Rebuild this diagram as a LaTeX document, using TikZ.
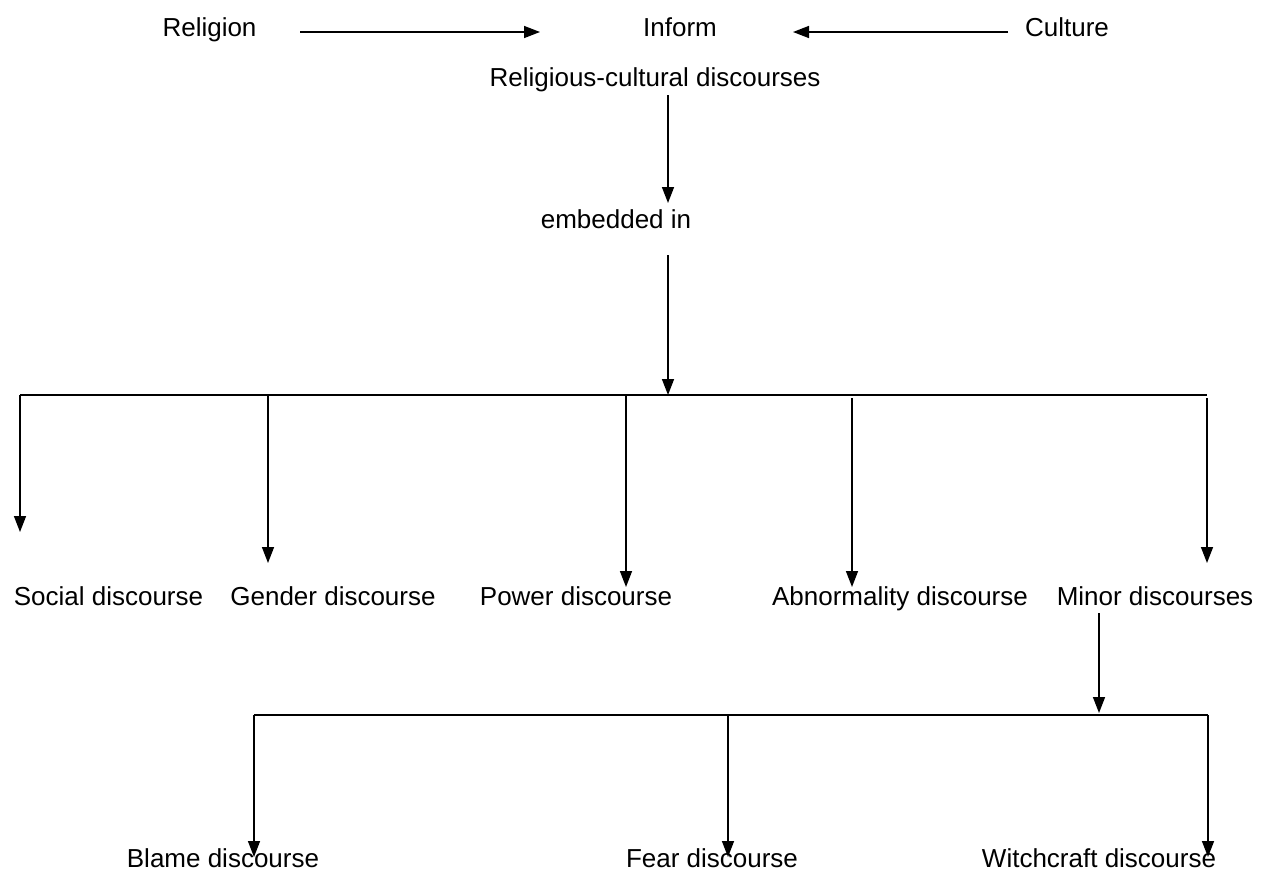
\documentclass[tikz,border=0pt]{standalone}
\usepackage{fontspec}
\setmainfont{Liberation Sans}
\usetikzlibrary{arrows.meta}
\begin{document}
\begin{tikzpicture}[x=1pt,y=-1pt,
  lbl/.style={anchor=base,inner sep=0pt,font=\fontsize{26}{30}\selectfont},
  ln/.style={line width=1.5pt,line cap=butt},
  arr/.style={ln,-{Triangle[width=12pt,length=16pt]}}]
\useasboundingbox (0,0) rectangle (1266,873);
% top row
\node[lbl] (rel) at (209.5,36) {Religion};
\node[lbl] (inf) at (680,36) {Inform};
\node[lbl] (cul) at (1067,36) {Culture};
\node[lbl] (rcd) at (655,86) {Religious-cultural discourses};
\node[lbl] (emb) at (616,228) {embedded in};
% level 2
\node[lbl] (soc) at (108.5,605) {Social discourse};
\node[lbl] (gen) at (333,605) {Gender discourse};
\node[lbl] (pow) at (576,605) {Power discourse};
\node[lbl] (abn) at (900,605) {Abnormality discourse};
\node[lbl] (min) at (1155,605) {Minor discourses};
% level 3
\node[lbl] (bla) at (223,867) {Blame discourse};
\node[lbl] (fea) at (712,867) {Fear discourse};
\node[lbl] (wit) at (1099,867) {Witchcraft discourse};
% coordinates
\coordinate (r1) at (300,32);
\coordinate (r2) at (540,32);
\coordinate (c1) at (1008,32);
\coordinate (c2) at (793,32);
\coordinate (d1) at (668,95);
\coordinate (d2) at (668,203);
\coordinate (e1) at (668,255);
\coordinate (e2) at (668,395);
\coordinate (hL) at (20,395);
\coordinate (hR) at (1207,395);
\coordinate (sT) at (20,395);   \coordinate (sB) at (20,532);
\coordinate (gT) at (268,395);  \coordinate (gB) at (268,563);
\coordinate (pT) at (626,395);  \coordinate (pB) at (626,587);
\coordinate (aT) at (852,398);  \coordinate (aB) at (852,587);
\coordinate (mT) at (1207,398); \coordinate (mB) at (1207,563);
\coordinate (n1) at (1099,613);
\coordinate (n2) at (1099,713);
\coordinate (kL) at (254,715);
\coordinate (kR) at (1208,715);
\coordinate (bT) at (254,715);  \coordinate (bB) at (254,857);
\coordinate (fT) at (728,715);  \coordinate (fB) at (728,857);
\coordinate (wT) at (1208,715); \coordinate (wB) at (1208,857);
% connectors
\draw[arr] (r1) -- (r2);
\draw[arr] (c1) -- (c2);
\draw[arr] (d1) -- (d2);
\draw[arr] (e1) -- (e2);
\draw[ln] (hL) -- (hR);
\draw[arr] (sT) -- (sB);
\draw[arr] (gT) -- (gB);
\draw[arr] (pT) -- (pB);
\draw[arr] (aT) -- (aB);
\draw[arr] (mT) -- (mB);
\draw[arr] (n1) -- (n2);
\draw[ln] (kL) -- (kR);
\draw[arr] (bT) -- (bB);
\draw[arr] (fT) -- (fB);
\draw[arr] (wT) -- (wB);
\end{tikzpicture}
\end{document}
